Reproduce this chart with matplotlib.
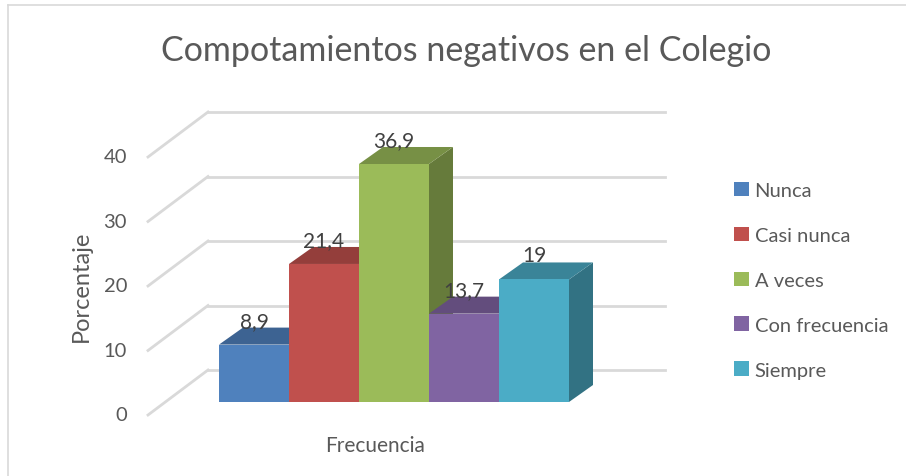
import matplotlib
matplotlib.use("Agg")
import numpy as np
import matplotlib.pyplot as plt
from matplotlib.patches import Polygon, Patch
from matplotlib.lines import Line2D
from matplotlib.colors import to_rgb

# data
categories = ["Nunca", "Casi nunca", "A veces", "Con frecuencia", "Siempre"]
values = [8.9, 21.4, 36.9, 13.7, 19]
value_labels = ["8,9", "21,4", "36,9", "13,7", "19"]
y_ticks = [0, 10, 20, 30, 40]
colors = ["#4F81BD", "#C0504D", "#9BBB59", "#8064A2", "#4BACC6"]

title = "Compotamientos negativos en el Colegio"
y_title = "Porcentaje"
x_title = "Frecuencia"

W, H = 906, 477
plt.rcParams['font.family'] = ['Lato', 'DejaVu Sans']
txt_col = "#595959"
grid_col = "#d9d9d9"

# pixel scale of the fake 3d view (one bar = 1 x unit)
PX_X = 70.0
PX_Y = 6.45
X0, Y0 = 219, 403  # front-bottom-left corner of first bar, pixels


def ux(px):
    return px / PX_X


def uy(px):
    return px / PX_Y


fig = plt.figure(figsize=(W / 100, H / 100), dpi=100)
ax = fig.add_axes([0, 0, 1, 1])
ax.set_xlim(-X0 / PX_X, (W - X0) / PX_X)
ax.set_ylim((Y0 - H) / PX_Y, Y0 / PX_Y)
ax.axis('off')

# chart border (top and left only visible)
fig.add_artist(Line2D([8 / W, 8 / W], [0, 1 - 6 / H], transform=fig.transFigure, color=grid_col, lw=1.2))
fig.add_artist(Line2D([8 / W, 1], [1 - 6 / H, 1 - 6 / H], transform=fig.transFigure, color=grid_col, lw=1.2))

# walls: back gridlines and side diagonals
back_dx, back_dy = ux(208 - X0), uy(Y0 - 371)
wall_dx, wall_dy = ux(148 - X0), -uy(416 - Y0)
grid_end = ux(665 - X0)
for t in y_ticks:
    ax.plot([back_dx, grid_end], [t + back_dy, t + back_dy], color=grid_col, lw=2, zorder=1)
    ax.plot([wall_dx, back_dx], [t + wall_dy, t + back_dy], color=grid_col, lw=2, zorder=1)
    ax.text(ux(127 - X0), t + wall_dy, str(t), ha='right', va='center', fontsize=14.5, color=txt_col)

# bars
dep_x, dep_y = ux(24), uy(17)
for i, (v, c) in enumerate(zip(values, colors)):
    rgb = np.array(to_rgb(c))
    x0, x1 = i, i + 1
    side = Polygon([(x1, 0), (x1, v), (x1 + dep_x, v + dep_y), (x1 + dep_x, dep_y)],
                   closed=True, facecolor=rgb * 0.66, edgecolor='none', zorder=2 + i)
    top = Polygon([(x0, v), (x1, v), (x1 + dep_x, v + dep_y), (x0 + dep_x, v + dep_y)],
                  closed=True, facecolor=rgb * 0.77, edgecolor='none', zorder=2 + i)
    front = Polygon([(x0, 0), (x1, 0), (x1, v), (x0, v)],
                    closed=True, facecolor=rgb, edgecolor='none', zorder=2 + i)
    for p in (side, top, front):
        ax.add_patch(p)
    ax.text(i + 0.5, v + dep_y + uy(1), value_labels[i], ha='center', va='baseline',
            fontsize=15, color='#404040', zorder=10)

# titles
fig.text(466 / W, 1 - 51 / H, title, ha='center', va='center', fontsize=24.5, color=txt_col)
fig.text(81 / W, 1 - 286 / H, y_title, ha='center', va='center', rotation=90, fontsize=17, color=txt_col)
fig.text(375 / W, 1 - 446 / H, x_title, ha='center', va='center', fontsize=15, color=txt_col)

# legend
handles = [Patch(facecolor=c, edgecolor='none') for c in colors]
leg = fig.legend(handles, categories, loc='upper left', bbox_to_anchor=(724 / W, 1 - 173 / H),
                 frameon=False, fontsize=14.5, labelspacing=1.37, handlelength=0.72,
                 handleheight=0.72, handletextpad=0.3, borderpad=0)
for t in leg.get_texts():
    t.set_color(txt_col)

plt.savefig("out.png", dpi=100)
